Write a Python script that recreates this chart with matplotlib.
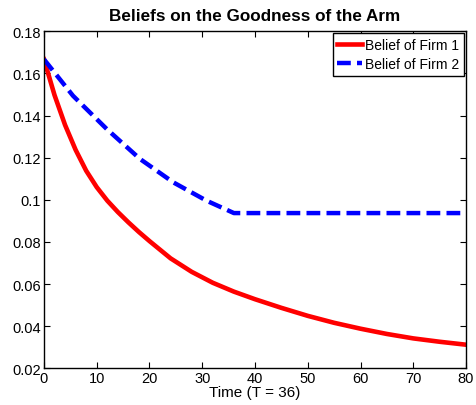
import matplotlib
matplotlib.use("Agg")
import matplotlib.pyplot as plt

plt.rcParams['font.family'] = ['Liberation Sans', 'DejaVu Sans']

# values
t_firm1 = [0, 2, 4, 6, 8, 10, 12, 14, 16, 18, 20, 24, 28, 32, 36, 40,
           45, 50, 55, 60, 65, 70, 75, 80]
b_firm1 = [0.1667, 0.1497, 0.1355, 0.1237, 0.1138, 0.1060, 0.0996, 0.0942, 0.0893,
           0.0847, 0.0804, 0.0722, 0.0658, 0.0606, 0.0564, 0.0528,
           0.0487, 0.0449, 0.0416, 0.0388, 0.0363, 0.0342, 0.0326, 0.0312]
t_firm2 = [0, 5.5, 11.9, 18.2, 24.5, 30.8, 36, 80]
b_firm2 = [0.1667, 0.1494, 0.1336, 0.1194, 0.1083, 0.0996, 0.0937, 0.0937]

fig = plt.figure(figsize=(4.77, 4.06), dpi=100)
ax = fig.add_axes([0.0922, 0.0904, 0.8848, 0.83])

ax.plot(t_firm1, b_firm1, color='#ff0000', lw=3.3, label='Belief of Firm 1')
ax.plot(t_firm2, b_firm2, color='#0000ff', lw=3.2, ls=(0, (3.1, 1.4)), label='Belief of Firm 2')

ax.set_xlim(0, 80)
ax.set_ylim(0.02, 0.18)
ax.set_xticks(range(0, 81, 10))
ax.set_yticks([0.02, 0.04, 0.06, 0.08, 0.1, 0.12, 0.14, 0.16, 0.18])
ax.set_yticklabels(['0.02', '0.04', '0.06', '0.08', '0.1', '0.12', '0.14', '0.16', '0.18'])
ax.tick_params(direction='in', top=True, right=True, labelsize=10.5, length=4, pad=2)
for s in ax.spines.values():
    s.set_linewidth(1)

ax.set_xlabel('Time (T = 36)', fontsize=11, labelpad=0)
ax.set_title('Beliefs on the Goodness of the Arm', fontsize=12.3, fontweight='bold', pad=8)

leg = ax.legend(loc='upper right', fontsize=10, fancybox=False, edgecolor='black',
                handlelength=1.8, handletextpad=0.2, borderpad=0.35, labelspacing=0.35,
                borderaxespad=0.12, framealpha=1)
leg.get_frame().set_linewidth(1)

fig.savefig('out.png', dpi=100)
